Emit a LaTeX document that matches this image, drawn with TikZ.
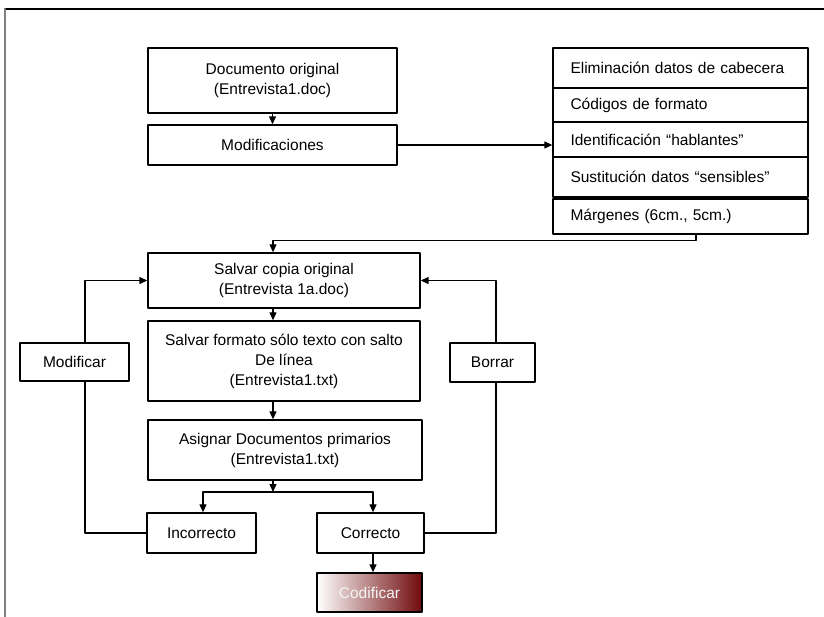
\documentclass[tikz,border=0pt]{standalone}
\usepackage{fontspec}
\setmainfont{Liberation Sans}
\usetikzlibrary{arrows.meta}
\definecolor{granate}{RGB}{112,10,12}

\begin{document}
\begin{tikzpicture}[x=1pt, y=-1pt, line cap=round, line join=round,
    caja/.style={draw, line width=1.4pt, inner sep=0pt, align=center,
        font=\fontsize{15.5}{20}\selectfont},
    fila/.style={caja, minimum width=255pt, text width=220pt, inner xsep=17.5pt, align=left},
    flecha/.style={line width=1.3pt, -{Triangle[length=8pt,width=7pt]}},
    linea/.style={line width=1.3pt}]
    % 画布与边框
    \useasboundingbox (0,0) rectangle (824,617);
    \draw[line width=1.5pt] (5,9) -- (824,9);
    \draw[line width=1.5pt, gray] (5,9) -- (5,617);

    % 竖线与回路所用的横坐标
    \coordinate (espina) at (273,0);
    \coordinate (bajada) at (696,0);
    \coordinate (izq) at (203,0);
    \coordinate (der) at (373,0);
    \coordinate (lazoizq) at (85,0);
    \coordinate (lazoder) at (496,0);
    \coordinate (rama) at (273,492);

    % 上部
    \node[caja, minimum width=249pt, minimum height=65pt] (docorig) at (272.5,80.5)
        {Documento original\\(Entrevista1.doc)};
    \node[caja, minimum width=249pt, minimum height=40pt] (modif) at (272.5,145)
        {Modificaciones};

    % 右侧列表
    \node[fila, minimum height=40pt] (elim) at (680.5,68) {Eliminación datos de cabecera};
    \node[fila, minimum height=34pt] (cod) at (680.5,105) {Códigos de formato};
    \node[fila, minimum height=35pt] (ident) at (680.5,139.5) {Identificación “hablantes”};
    \node[fila, minimum height=40pt] (sust) at (680.5,177) {Sustitución datos “sensibles”};
    \node[fila, minimum height=35pt] (marg) at (680.5,216.5) {Márgenes (6cm., 5cm.)};

    % 中部流程
    \node[caja, minimum width=272pt, minimum height=55pt] (salvar) at (284,280.5)
        {Salvar copia original\\(Entrevista 1a.doc)};
    \node[caja, minimum width=272pt, minimum height=80pt] (formato) at (284,361)
        {Salvar formato sólo texto con salto\\De línea\\(Entrevista1.txt)};
    \node[caja, minimum width=274pt, minimum height=60pt] (asignar) at (285,450)
        {Asignar Documentos primarios\\(Entrevista1.txt)};

    % 结果
    \node[caja, minimum width=109pt, minimum height=40pt] (incorr) at (201.5,533) {Incorrecto};
    \node[caja, minimum width=107pt, minimum height=40pt] (corr) at (370.5,533) {Correcto};
    \node[caja, minimum width=105pt, minimum height=39pt, left color=white,
        right color=granate, text=white!92!gray] (codif) at (369.5,592.5) {Codificar};

    % 两侧回路
    \node[caja, minimum width=109pt, minimum height=38pt] (modificar) at (74.5,362) {Modificar};
    \node[caja, minimum width=85pt, minimum height=39pt] (borrar) at (492.5,362.5) {Borrar};

    % 连线
    \draw[flecha] (docorig) -- (modif);
    \draw[flecha] (modif.east) -- (modif.east -| ident.west);
    \draw[flecha] (marg.south -| bajada) -- ++(0,6) -| (salvar.north -| espina);
    \draw[flecha] (salvar.south -| espina) -- (formato.north -| espina);
    \draw[flecha] (formato.south -| espina) -- (asignar.north -| espina);
    \draw[flecha] (asignar.south -| espina) -- (rama);
    \draw[flecha] (rama) -| (incorr.north -| izq);
    \draw[flecha] (rama) -| (corr.north -| der);
    \draw[flecha] (corr.south -| der) -- (codif.north -| der);

    % 回路连线
    \draw[linea] (incorr.west) -| (modificar.south -| lazoizq);
    \draw[flecha] (modificar.north -| lazoizq) |- (salvar.west);
    \draw[linea] (corr.east) -| (borrar.south -| lazoder);
    \draw[flecha] (borrar.north -| lazoder) |- (salvar.east);
\end{tikzpicture}
\end{document}
